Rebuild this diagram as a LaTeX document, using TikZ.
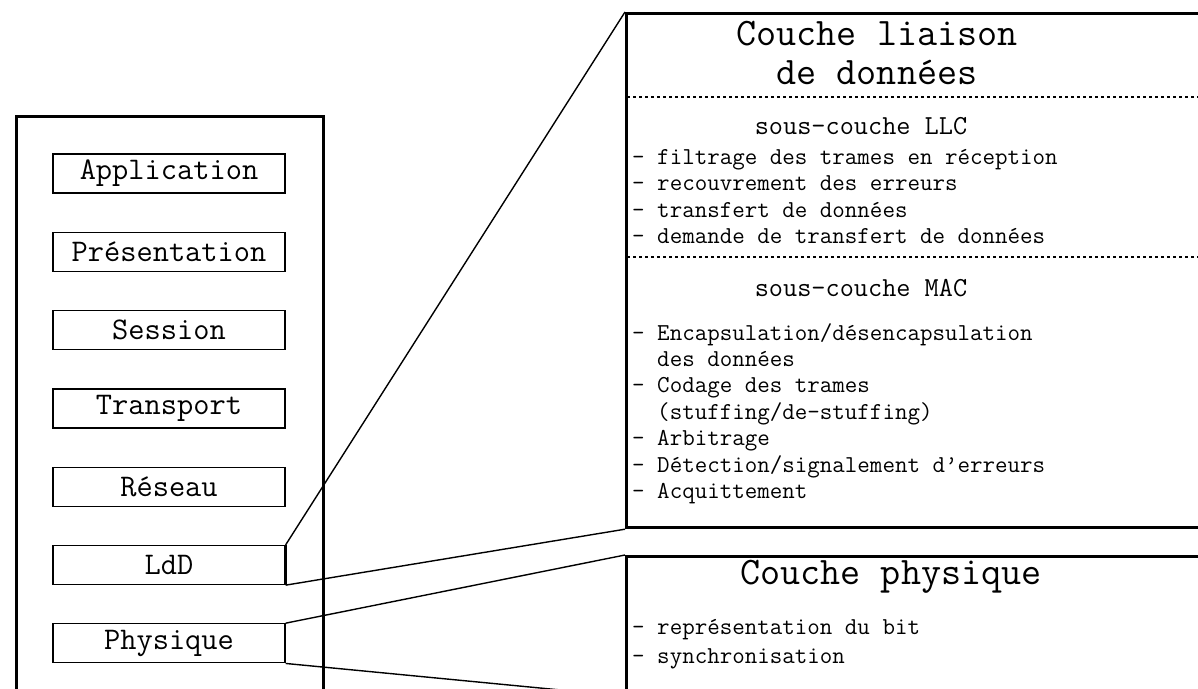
\documentclass[tikz,border=0pt]{standalone}
\usetikzlibrary{positioning}

\tikzset{
  layerbox/.style={draw,line width=1.3pt,minimum width=232pt,minimum height=39pt,
    inner sep=0pt,font=\ttfamily\fontsize{31.5}{33}\selectfont},
  bigbox/.style={draw,line width=3.2pt,inner sep=0pt,anchor=north west},
  zoomline/.style={line width=1.4pt},
  sepline/.style={line width=2.6pt,dash pattern=on 2.6pt off 3.4pt},
  titletext/.style={inner sep=0pt,align=center,font=\ttfamily\fontsize{39}{39}\selectfont},
  subtitle/.style={inner sep=0pt,font=\ttfamily\fontsize{27.5}{28}\selectfont},
  itemtext/.style={inner sep=0pt,anchor=north west,align=left,font=\ttfamily\fontsize{24.3}{26.4}\selectfont}
}

\begin{document}
\begin{tikzpicture}[x=1pt,y=-1pt]
\useasboundingbox (0,0) rectangle (1198,688);
\clip (0,0) rectangle (1198,688);

% left stack
\node[bigbox,minimum width=307pt,minimum height=620pt] (osi) at (14.5,114.5) {};
\node[layerbox] (app) at (169,173.5) {Application};
\node[layerbox,below=38pt of app] (pres) {Présentation};
\node[layerbox,below=38pt of pres] (sess) {Session};
\node[layerbox,below=38pt of sess] (trans) {Transport};
\node[layerbox,below=38pt of trans] (res) {Réseau};
\node[layerbox,below=38pt of res] (ldd) {LdD};
\node[layerbox,below=38pt of ldd] (phys) {Physique};
\draw[line width=3pt] (ldd.north east) -- (ldd.south east);

% data link layer
\node[bigbox,minimum width=600pt,minimum height=514pt] (llc) at (625,12) {};
\node[titletext] (llctitle) at (877,53) {Couche liaison\\de données};
\draw[sepline] (627,97) -- (1198,97);
\node[subtitle] (llcsub) at (861,126) {sous-couche LLC};
\node[itemtext] (llcitems) at (632,149) {- filtrage des trames en réception\\
  - recouvrement des erreurs\\- transfert de données\\
  - demande de transfert de données};
\draw[sepline] (627,257) -- (1198,257);
\node[subtitle] (macsub) at (861,288) {sous-couche MAC};
\node[itemtext] (macitems) at (632,323) {- Encapsulation/désencapsulation\\
  \phantom{- }des données\\- Codage des trames\\
  \phantom{- }(stuffing/de-stuffing)\\- Arbitrage\\
  - Détection/signalement d’erreurs\\- Acquittement};

% physical layer
\node[bigbox,minimum width=600pt,minimum height=138pt] (physbox) at (625,555) {};
\node[titletext] (phystitle) at (891,577) {Couche physique};
\node[itemtext,font=\ttfamily\fontsize{24.3}{29}\selectfont] (physitems) at (632,619)
  {- représentation du bit\\- synchronisation};

% zoom lines
\draw[zoomline] (ldd.north east) -- (llc.north west);
\draw[zoomline] (ldd.south east) -- (llc.south west);
\draw[zoomline] (phys.north east) -- (physbox.north west);
\draw[zoomline] (phys.south east) -- (physbox.south west);
\end{tikzpicture}
\end{document}
